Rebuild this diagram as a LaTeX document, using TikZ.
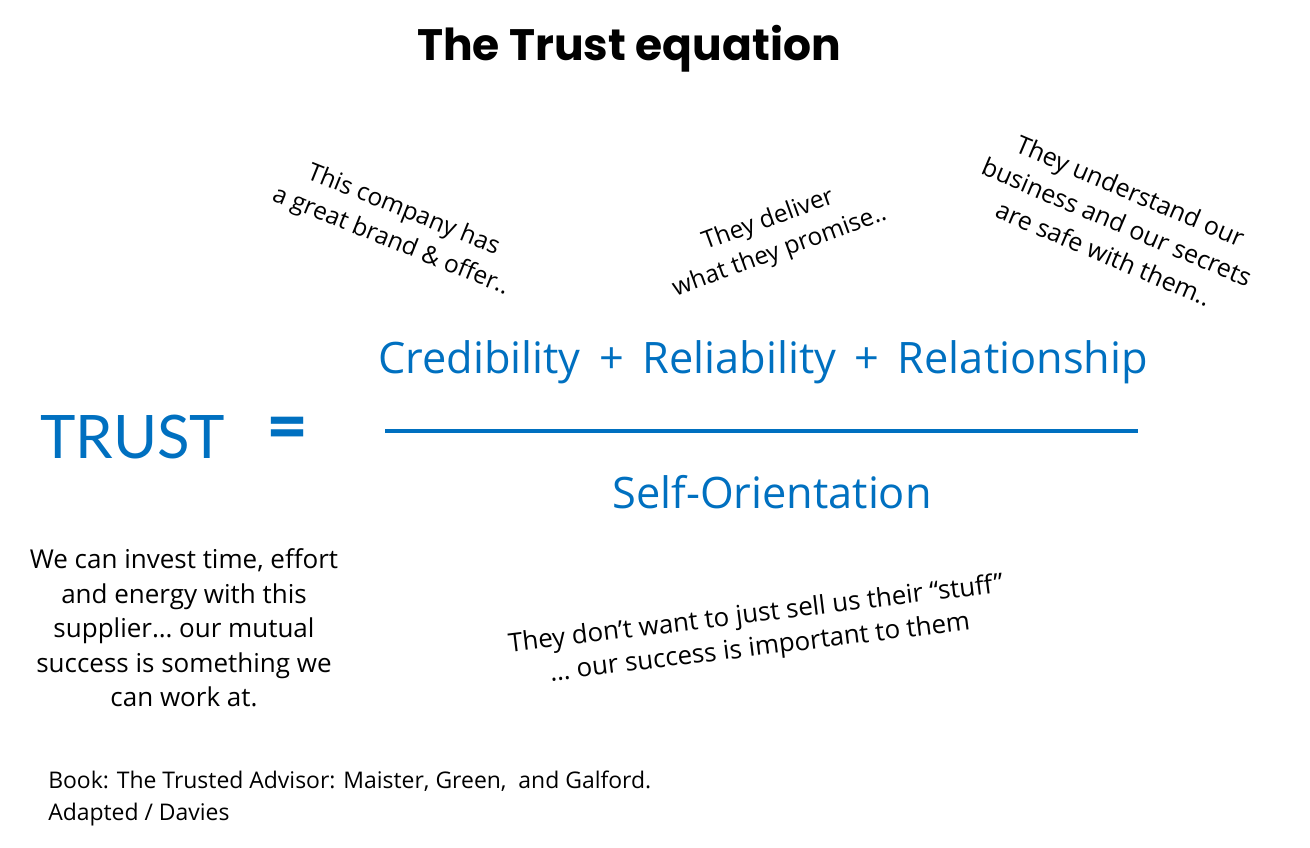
\documentclass[tikz,border=0pt]{standalone}
\usepackage{fontspec}
\setmainfont{Open Sans}
\newfontfamily\titlefont{Poppins}[UprightFont=* Bold]
\newfontfamily\trustfont{Lato}
\definecolor{offblue}{HTML}{0070C0}
\begin{document}
\begin{tikzpicture}[x=0.75pt,y=-0.75pt,
  lbl/.style={inner sep=0pt, align=center, text=black},
  blu/.style={inner sep=0pt, text=offblue},
  quote/.style={lbl, font=\fontsize{18.4}{25}\selectfont},
]
\useasboundingbox (0,0) rectangle (1310,847);
% title
\node[inner sep=0pt, font=\titlefont\fontsize{33}{36}\selectfont] (title) at (629,49) {The Trust equation};
% rotated quotes
\node[quote, rotate=-22] (q1) at (397,226) {This company has\\a great brand \& offer..};
\node[quote, rotate=20] (q2) at (774,236) {They deliver\\what they promise..};
\node[quote, font=\fontsize{18.8}{25.5}\selectfont, rotate=-23] (q3) at (1117,222) {They understand our\\business and our secrets\\are safe with them..};
% equation
\node[blu, font=\trustfont\fontsize{45}{50}\selectfont, anchor=base west] (trust) at (40,458) {TRUST};
\node[blu, font=\bfseries\fontsize{50}{54}\selectfont] (eq) at (288,434) {=};
\node[blu, font=\fontsize{32.5}{36}\selectfont, anchor=base] (num) at (763,373) {Credibility \,+\, Reliability \,+\, Relationship};
\coordinate (la) at (385,431);
\coordinate (lb) at (1138,431);
\draw[offblue, line width=3pt] (la) -- (lb);
\node[blu, font=\fontsize{32.5}{36}\selectfont, anchor=base] (den) at (772,508) {Self-Orientation};
% lower texts
\node[lbl, font=\fontsize{19.5}{25.9}\selectfont] (left) at (184,628) {We can invest time, effort\\and energy with this\\supplier\ldots{} our mutual\\success is something we\\can work at.};
\node[quote, font=\fontsize{19.4}{25}\selectfont, rotate=7] (q4) at (758,632) {They don’t want to just sell us their “stuff”\\\ldots{} our success is important to them};
% footnote
\node[inner sep=0pt, align=left, anchor=north west, font=\fontsize{17.2}{24}\selectfont] (foot) at (48,771) {Book: The Trusted Advisor: Maister, Green, \ and Galford.\\Adapted / Davies};
\end{tikzpicture}
\end{document}
